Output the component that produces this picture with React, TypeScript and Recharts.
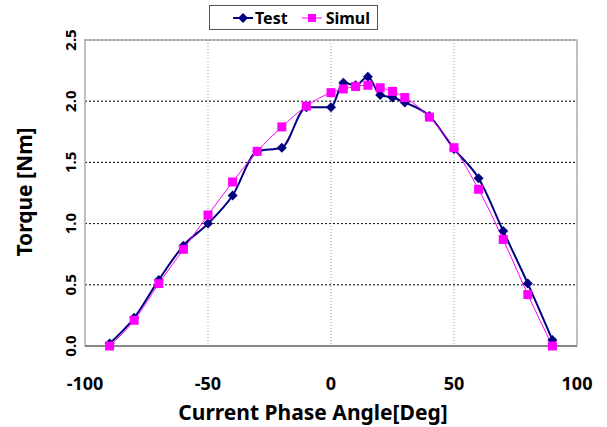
import React from 'react';
import { LineChart, Line, XAxis, YAxis, CartesianGrid, ReferenceArea, Label } from 'recharts';

// phase angle sweep [deg]
const angles = [-90, -80, -70, -60, -50, -40, -30, -20, -10, 0, 5, 10, 15, 20, 25, 30, 40, 50, 60, 70, 80, 90];
// measured torque [Nm]
const testTorque = [0.02, 0.23, 0.54, 0.82, 1.0, 1.23, 1.59, 1.62, 1.95, 1.95, 2.15, 2.13, 2.2, 2.05, 2.03, 1.99, 1.88, 1.61, 1.37, 0.94, 0.51, 0.05];
// simulated torque [Nm]
const simulTorque = [0.0, 0.21, 0.51, 0.79, 1.07, 1.34, 1.59, 1.79, 1.96, 2.07, 2.1, 2.12, 2.13, 2.11, 2.08, 2.03, 1.87, 1.62, 1.28, 0.87, 0.42, 0.0];

const xTicks = [-100, -50, 0, 50, 100];
const yTicks = [0, 0.5, 1.0, 1.5, 2.0, 2.5];

const TEST_COLOR = '#000080';
const SIMUL_COLOR = '#ff00ff';
const FONT = '"Noto Sans", sans-serif';

const data = angles.map((a, i) => ({ angle: a, test: testTorque[i], simul: simulTorque[i] }));

const Diamond = (props: any) => {
  const { cx, cy } = props;
  if (cx == null || cy == null) return null;
  const r = 5;
  return <path d={`M${cx},${cy - r}L${cx + r},${cy}L${cx},${cy + r}L${cx - r},${cy}Z`} fill={TEST_COLOR} />;
};

const Square = (props: any) => {
  const { cx, cy } = props;
  if (cx == null || cy == null) return null;
  const s = 9;
  return <rect x={cx - s / 2} y={cy - s / 2} width={s} height={s} fill={SIMUL_COLOR} />;
};

const XTick = ({ x, y, payload }: any) => (
  <text x={x} y={y} dy={36} textAnchor="middle" fontSize={18} fontWeight="bold" fill="#000" fontFamily={FONT}>
    {payload.value}
  </text>
);

const YTick = ({ y, payload }: any) => (
  <text
    transform={`translate(70, ${y}) rotate(-90)`}
    textAnchor="middle"
    dominantBaseline="central"
    fontSize={15}
    fontWeight="bold"
    fill="#000"
    fontFamily={FONT}
  >
    {Number(payload.value).toFixed(1)}
  </text>
);

// legend box drawn over the top of the chart
const ChartLegend = () => (
  <div
    style={{
      position: 'absolute',
      left: 209,
      top: 5,
      width: 169,
      height: 25,
      border: '1px solid #555',
      background: '#fff',
      display: 'flex',
      alignItems: 'center',
      fontFamily: FONT,
      fontWeight: 'bold',
      fontSize: 16,
      boxSizing: 'border-box',
    }}
  >
    <svg width={30} height={20} style={{ marginLeft: 21 }}>
      <line x1={2} y1={10} x2={22} y2={10} stroke={TEST_COLOR} strokeWidth={2} />
      <path d="M12,5L17,10L12,15L7,10Z" fill={TEST_COLOR} />
    </svg>
    <span style={{ marginLeft: -6 }}>Test</span>
    <svg width={30} height={20} style={{ marginLeft: 12 }}>
      <line x1={2} y1={10} x2={22} y2={10} stroke={SIMUL_COLOR} strokeWidth={1} />
      <rect x={8} y={6} width={8} height={8} fill={SIMUL_COLOR} />
    </svg>
    <span style={{ marginLeft: -4 }}>Simul</span>
  </div>
);

export default function App() {
  return (
    <div style={{ position: 'absolute', left: 0, top: 0, width: 607, height: 427, background: '#fff' }}>
      <LineChart
        width={607}
        height={427}
        data={data}
        margin={{ top: 40, right: 30, bottom: 0, left: 0 }}
        style={{ fontFamily: FONT }}
      >
        {/* horizontal black dashed grid */}
        <CartesianGrid vertical={false} stroke="#000" strokeDasharray="2 2" />
        {/* vertical gray dotted grid */}
        <CartesianGrid horizontal={false} stroke="#999" strokeDasharray="1 2" />
        {/* plot frame */}
        <ReferenceArea x1={-100} x2={100} y1={0} y2={2.5} fill="none" stroke="#b0b0b0" strokeWidth={1.5} ifOverflow="visible" />
        <XAxis
          dataKey="angle"
          type="number"
          domain={[-100, 100]}
          ticks={xTicks}
          tickLine={false}
          axisLine={{ stroke: '#7a7a7a', strokeWidth: 1.5 }}
          tick={<XTick />}
          height={81}
        >
          <Label
            content={() => (
              <text x={313} y={420} textAnchor="middle" fontSize={21} fontWeight="bold" fill="#000" fontFamily={FONT}>
                Current Phase Angle[Deg]
              </text>
            )}
          />
        </XAxis>
        <YAxis
          type="number"
          domain={[0, 2.5]}
          ticks={yTicks}
          tickLine={false}
          axisLine={false}
          tick={<YTick />}
          width={85}
        >
          <Label
            content={() => (
              <text
                transform="translate(24, 192) rotate(-90)"
                textAnchor="middle"
                dominantBaseline="central"
                fontSize={21}
                fontWeight="bold"
                fill="#000"
                fontFamily={FONT}
              >
                Torque [Nm]
              </text>
            )}
          />
        </YAxis>
        <Line
          type="monotone"
          dataKey="test"
          name="Test"
          stroke={TEST_COLOR}
          strokeWidth={2}
          dot={<Diamond />}
          activeDot={false}
          isAnimationActive={false}
        />
        <Line
          type="monotone"
          dataKey="simul"
          name="Simul"
          stroke={SIMUL_COLOR}
          strokeWidth={1}
          dot={<Square />}
          activeDot={false}
          isAnimationActive={false}
        />
      </LineChart>
      <ChartLegend />
    </div>
  );
}
